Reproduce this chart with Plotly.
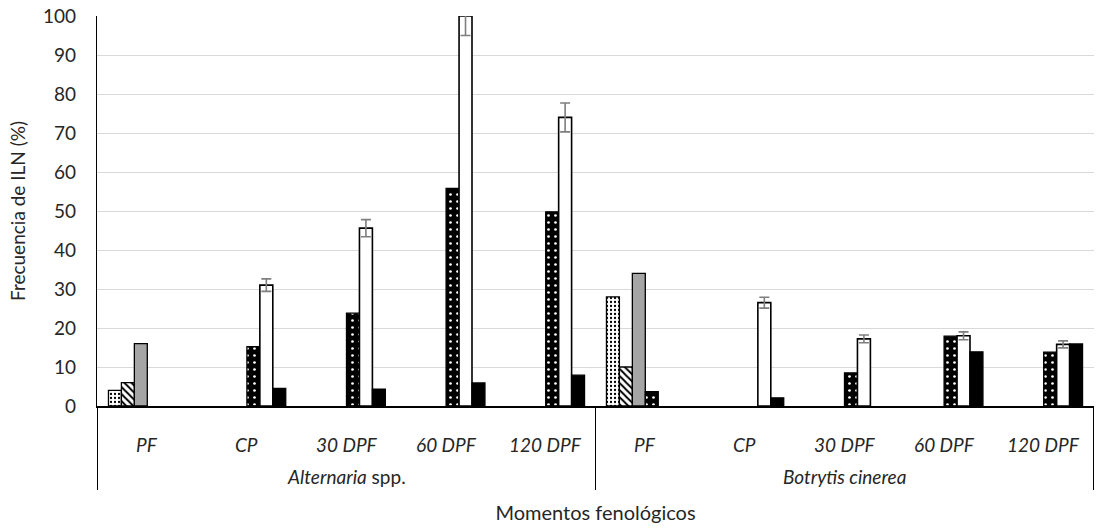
import plotly.graph_objects as go

group_names = ["<i>Alternaria</i> spp.", "<i>Botrytis cinerea</i>"]
moment_names = ["PF", "CP", "30 DPF", "60 DPF", "120 DPF"]
groups = [group_names[0]] * 5 + [group_names[1]] * 5
moments = moment_names * 2
keys = [f"{g}|{m}" for g, m in zip(groups, moments)]

s1_light_dots = [4, None, None, None, None, 28, None, None, None, None]
s2_hatched = [6, None, None, None, None, 10, None, None, None, None]
s3_gray = [16, None, None, None, None, 34, None, None, None, None]
s4_dark_dots = [None, 15.2, 23.8, 55.8, 49.8, 3.7, None, 8.5, 17.9, 13.8]
s5_white = [None, 31.0, 45.6, 100, 74.0, None, 26.5, 17.2, 18.0, 15.8]
s5_err = [0, 1.6, 2.2, 5.0, 3.7, 0, 1.4, 1.0, 1.0, 0.9]
s6_black = [None, 4.5, 4.3, 5.9, 7.9, None, 2.1, None, 13.9, 15.9]

FONT = "Lato"
TXT = "#262626"
line = dict(color="black", width=1.3)

fig = go.Figure()
fig.add_bar(x=keys, y=s1_light_dots, name="Serie 1",
            marker=dict(color="white", line=line,
                        pattern=dict(shape=".", fgcolor="black", bgcolor="white",
                                     size=4, solidity=0.25, fillmode="replace")))
fig.add_bar(x=keys, y=s2_hatched, name="Serie 2",
            marker=dict(color="white", line=line,
                        pattern=dict(shape="\\", fgcolor="black", bgcolor="white",
                                     size=5, solidity=0.4, fillmode="replace")))
fig.add_bar(x=keys, y=s3_gray, name="Serie 3",
            marker=dict(color="#a5a5a5", line=line))
fig.add_bar(x=keys, y=s4_dark_dots, name="Serie 4",
            marker=dict(color="black", line=line,
                        pattern=dict(shape=".", fgcolor="white", bgcolor="black",
                                     size=7, solidity=0.12, fillmode="replace")))
fig.add_bar(x=keys, y=s5_white, name="Serie 5",
            marker=dict(color="white", line=dict(color="black", width=1.6)),
            error_y=dict(type="data", array=s5_err, visible=True,
                         color="#7f7f7f", thickness=1.6, width=5))
fig.add_bar(x=keys, y=s6_black, name="Serie 6",
            marker=dict(color="black", line=line))

# category labels (level 1) and group labels (level 2)
for k, m in zip(keys, moments):
    fig.add_annotation(x=k, y=0, xref="x", yref="paper", yanchor="middle",
                       yshift=-38, text=f"<i>{m}</i>", showarrow=False,
                       font=dict(size=19, family=FONT, color=TXT))
for gi, g in enumerate(group_names):
    fig.add_annotation(x=keys[gi * 5 + 2], y=0, xref="x", yref="paper",
                       yanchor="middle", yshift=-70, text=g, showarrow=False,
                       font=dict(size=19, family=FONT, color=TXT))
# dividers of the two-level category axis
for xb in [-0.5, 4.5, 9.5]:
    fig.add_shape(type="line", xref="x", yref="paper", x0=xb, x1=xb,
                  y0=0, y1=-84 / 390, line=dict(color="black", width=1))

fig.update_layout(
    width=1096, height=532,
    margin=dict(l=97, r=2, t=16, b=126),
    paper_bgcolor="white", plot_bgcolor="white",
    barmode="group", bargap=0.22, bargroupgap=0,
    showlegend=False,
    font=dict(family=FONT, color=TXT),
)
fig.update_yaxes(
    range=[0, 100], dtick=10, tick0=0,
    showgrid=True, gridcolor="#d9d9d9", gridwidth=1.3,
    showline=True, linecolor="black", linewidth=1.3,
    ticks="", ticklabelstandoff=16,
    tickfont=dict(size=19, family=FONT, color=TXT),
    title=dict(text="Frecuencia de ILN (%)", font=dict(size=19, family=FONT, color=TXT),
               standoff=12),
    zeroline=False,
)
fig.update_xaxes(
    type="category",
    showline=True, linecolor="black", linewidth=1.6,
    ticks="", showticklabels=False,
    title=dict(text="Momentos fenológicos", font=dict(size=20, family=FONT, color=TXT),
               standoff=99),
)

fig.write_html("out.html")
